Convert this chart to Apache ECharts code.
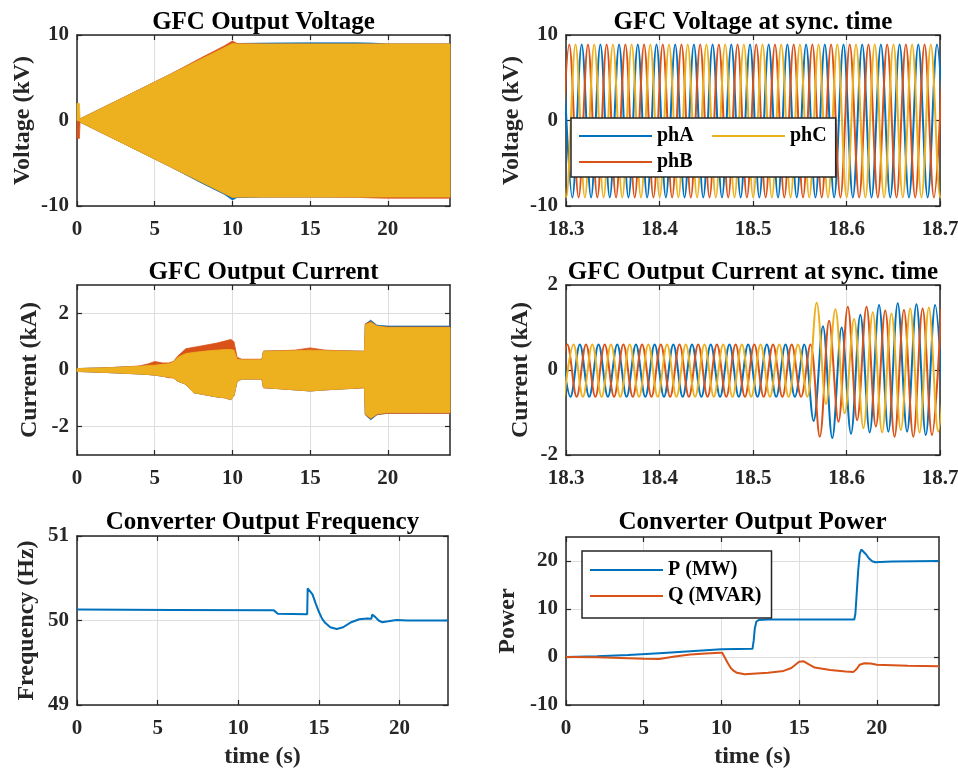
<!DOCTYPE html>
<html>
<head>
<meta charset="utf-8">
<title>GFC synchronisation</title>
<script src="https://cdn.jsdelivr.net/npm/echarts@6.0.0/dist/echarts.min.js"></script>
<style>
  html, body { margin: 0; padding: 0; background: #fff; }
  #main { width: 958px; height: 769px; }
</style>
</head>
<body>
<div id="main"></div>
<script>
// matlab default colours
var BLUE = '#0072BD', RED = '#D95319', YEL = '#EDB120';
var AXC = '#262626', GRC = '#dedede';
var FONT = '"Liberation Serif", "Times New Roman", serif';

// tick labels
var tTicks = [0, 5, 10, 15, 20];
var syncTicks = [18.3, 18.4, 18.5, 18.6, 18.7];
var vTicks = [-10, 0, 10];
var iTicks = [-2, 0, 2];
var fTicks = [49, 50, 51];
var pTicks = [-10, 0, 10, 20];

// GFC output voltage, envelope of each phase (kV) - the 50 Hz waves are too dense to see
var vEnvT = [0, 0.15, 0.2, 2, 4, 6, 8, 9.5, 10, 10.3, 12, 15, 18, 19, 20, 22, 24];
var vA_hi = [0.4, 0.4, 0.18, 1.8, 3.6, 5.4, 7.2, 8.55, 9.0, 9.0, 9.05, 9.08, 9.08, 9.05, 8.95, 8.95, 8.95];
var vA_lo = [-0.4, -0.4, -0.18, -1.8, -3.6, -5.4, -7.3, -8.65, -9.3, -9.0, -8.95, -8.95, -8.95, -8.95, -8.95, -8.95, -8.95];
var vB_hi = [0.4, 0.4, 0.18, 1.8, 3.6, 5.4, 7.35, 8.75, 9.3, 9.0, 8.95, 8.95, 8.95, 8.95, 8.95, 8.95, 8.95];
var vB_lo = [-2.1, -2.1, -0.18, -1.8, -3.6, -5.4, -7.2, -8.55, -9.0, -8.95, -8.95, -8.95, -8.98, -9.05, -9.08, -9.08, -9.08];
var vC_hi = [2.0, 2.0, 0.18, 1.8, 3.6, 5.4, 7.2, 8.55, 9.0, 8.95, 8.95, 8.95, 8.95, 8.95, 8.95, 8.95, 8.95];
var vC_lo = [0, 0, -0.18, -1.8, -3.6, -5.4, -7.2, -8.55, -9.0, -8.95, -8.95, -8.95, -8.95, -8.95, -8.95, -8.95, -8.95];

// GFC output current, envelope of each phase (kA)
var iEnvT = [0, 2, 4, 4.6, 5, 5.5, 5.9, 6.2, 6.5, 7, 7.5, 8, 8.5, 9, 9.5, 9.9, 10.1, 10.3, 10.6, 11.9, 12, 13, 14, 15, 16, 17, 18.5, 18.55, 18.9, 19.3, 20, 22, 24];
var iA_hi = [0.05, 0.08, 0.13, 0.16, 0.17, 0.2, 0.22, 0.28, 0.45, 0.58, 0.62, 0.65, 0.68, 0.7, 0.72, 0.72, 0.7, 0.38, 0.36, 0.36, 0.66, 0.67, 0.68, 0.7, 0.68, 0.67, 0.66, 1.62, 1.76, 1.58, 1.55, 1.55, 1.55];
var iA_lo = [-0.05, -0.09, -0.14, -0.16, -0.18, -0.22, -0.25, -0.27, -0.4, -0.5, -0.8, -0.85, -0.9, -0.95, -0.98, -1.05, -0.9, -0.4, -0.32, -0.32, -0.62, -0.66, -0.7, -0.74, -0.7, -0.67, -0.62, -1.58, -1.76, -1.58, -1.52, -1.52, -1.52];
var iB_hi = [0.05, 0.08, 0.14, 0.22, 0.3, 0.25, 0.25, 0.3, 0.5, 0.75, 0.8, 0.85, 0.9, 0.95, 1.02, 1.08, 1.0, 0.45, 0.38, 0.38, 0.67, 0.68, 0.7, 0.78, 0.7, 0.68, 0.66, 1.62, 1.72, 1.55, 1.52, 1.52, 1.52];
var iB_lo = [-0.05, -0.09, -0.14, -0.16, -0.18, -0.22, -0.27, -0.28, -0.4, -0.5, -0.8, -0.85, -0.9, -0.95, -0.98, -1.05, -0.9, -0.4, -0.32, -0.32, -0.63, -0.66, -0.7, -0.74, -0.7, -0.67, -0.63, -1.57, -1.72, -1.57, -1.53, -1.53, -1.53];
var iC_hi = [0.05, 0.08, 0.13, 0.16, 0.17, 0.2, 0.22, 0.28, 0.45, 0.58, 0.62, 0.65, 0.68, 0.7, 0.72, 0.72, 0.7, 0.38, 0.36, 0.36, 0.66, 0.67, 0.68, 0.7, 0.68, 0.67, 0.66, 1.6, 1.68, 1.55, 1.5, 1.5, 1.5];
var iC_lo = [-0.05, -0.09, -0.14, -0.16, -0.18, -0.22, -0.25, -0.27, -0.4, -0.5, -0.8, -0.85, -0.9, -0.95, -0.98, -1.05, -0.9, -0.4, -0.32, -0.32, -0.62, -0.66, -0.7, -0.74, -0.7, -0.67, -0.62, -1.55, -1.7, -1.55, -1.5, -1.5, -1.5];

// sync window: peak / trough values, one every half period (10 ms at 50 Hz)
var HALF = 0.01;
var vsA_t0 = 18.2968, vsB_t0 = 18.2935, vsC_t0 = 18.2902;
var vsA = [8.9, -9.0, 8.9, -9.0, 8.9, -9.0, 8.9, -9.0, 8.9, -9.0, 8.9, -9.0, 8.9, -9.0,
           8.9, -9.0, 8.9, -9.0, 8.9, -9.0, 8.9, -9.0, 8.9, -9.0, 8.9, -9.0, 8.9, -9.0,
           8.9, -9.0, 8.9, -9.0, 8.9, -9.0, 8.9, -9.0, 8.9, -9.0, 8.9, -9.0, 8.9, -9.0];
var vsB = [-9.0, 8.9, -9.0, 8.9, -9.0, 8.9, -9.0, 8.9, -9.0, 8.9, -9.0, 8.9, -9.0, 8.9,
           -9.0, 8.9, -9.0, 8.9, -9.0, 8.9, -9.0, 8.9, -9.0, 8.9, -9.0, 8.9, -9.0, 8.9,
           -9.0, 8.9, -9.0, 8.9, -9.0, 8.9, -9.0, 8.9, -9.0, 8.9, -9.0, 8.9, -9.0, 8.9];
var vsC = [8.9, -9.0, 8.9, -9.0, 8.9, -9.0, 8.9, -9.0, 8.9, -9.0, 8.9, -9.0, 8.9, -9.0,
           8.9, -9.0, 8.9, -9.0, 8.9, -9.0, 8.9, -9.0, 8.9, -9.0, 8.9, -9.0, 8.9, -9.0,
           8.9, -9.0, 8.9, -9.0, 8.9, -9.0, 8.9, -9.0, 8.9, -9.0, 8.9, -9.0, 8.9, -9.0, 8.9];

var isA_t0 = 18.2948, isB_t0 = 18.2914, isC_t0 = 18.2981;
var isA = [0.6, -0.63, 0.6, -0.63, 0.6, -0.63, 0.6, -0.63, 0.6, -0.63, 0.6, -0.63, 0.6, -0.63,
           0.6, -0.63, 0.6, -0.63, 0.6, -0.63, 0.6, -0.63, 0.6, -0.63, 0.6, -0.63, 0.6,
           -1.2, 1.03, -1.6, 1.0, -1.5, 1.3, -1.47, 1.53, -1.45, 1.57, -1.45, 1.55, -1.53, 1.53, -1.5];
var isB = [-0.63, 0.6, -0.63, 0.6, -0.63, 0.6, -0.63, 0.6, -0.63, 0.6, -0.63, 0.6, -0.63, 0.6,
           -0.63, 0.6, -0.63, 0.6, -0.63, 0.6, -0.63, 0.6, -0.63, 0.6, -0.63, 0.6, -0.63, 0.6,
           -1.57, 1.16, -1.22, 1.49, -1.18, 1.49, -1.33, 1.4, -1.57, 1.41, -1.57, 1.45, -1.53, 1.45];
var isC = [-0.63, 0.6, -0.63, 0.6, -0.63, 0.6, -0.63, 0.6, -0.63, 0.6, -0.63, 0.6, -0.63, 0.6,
           -0.63, 0.6, -0.63, 0.6, -0.63, 0.6, -0.63, 0.6, -0.63, 0.6, -0.63, 0.6, -0.63,
           1.58, -0.8, 1.43, -1.02, 1.2, -1.37, 1.36, -1.47, 1.33, -1.41, 1.45, -1.47, 1.47, -1.45, 1.45];

// converter frequency (Hz)
var fT = [0, 6, 12.2, 12.3, 12.45, 14.27, 14.3, 14.4, 14.6, 14.8, 15.0, 15.2, 15.4, 15.7, 16.1, 16.5, 17.0, 17.5, 18.0, 18.25, 18.3, 18.35, 18.5, 18.7, 18.9, 19.3, 19.8, 20.5, 23];
var fV = [50.13, 50.125, 50.12, 50.1, 50.08, 50.075, 50.38, 50.39, 50.31, 50.2, 50.1, 50.02, 49.97, 49.92, 49.9, 49.92, 49.98, 50.015, 50.025, 50.02, 50.07, 50.075, 50.04, 50.0, 49.98, 49.99, 50.005, 50.0, 50.0];

// converter power
var pT = [0, 2, 4, 6, 8, 10, 12, 12.08, 12.15, 12.25, 12.4, 13, 15, 18.55, 18.62, 18.7, 18.8, 18.9, 19.0, 19.1, 19.3, 19.5, 19.7, 19.9, 20.2, 21, 24];
var pV = [0, 0.15, 0.4, 0.8, 1.2, 1.6, 1.7, 3.5, 6.0, 7.4, 7.7, 7.8, 7.8, 7.8, 9.0, 13.0, 18.0, 21.5, 22.4, 22.3, 21.4, 20.5, 19.95, 19.75, 19.8, 19.9, 20.0];
var qT = [0, 2, 4, 5, 6, 7, 8, 9, 9.9, 10.05, 10.2, 10.4, 10.6, 10.8, 11, 11.5, 12, 13, 14, 14.5, 15, 15.1, 15.3, 15.6, 16, 17, 18, 18.5, 18.6, 18.7, 18.9, 19.2, 19.6, 20, 22, 24];
var qV = [0, -0.05, -0.25, -0.35, -0.4, 0.1, 0.5, 0.75, 0.9, 0.9, 0, -1.2, -2.3, -2.9, -3.3, -3.6, -3.5, -3.3, -2.9, -2.3, -1.0, -0.7, -0.9, -1.5, -2.2, -2.7, -3.0, -3.1, -3.4, -2.5, -1.6, -1.3, -1.35, -1.6, -1.8, -1.95];

function pairs(t, v) {
    return t.map(function (x, i) { return [x, v[i]]; });
}
function halfCycles(t0, v) {
    return v.map(function (y, i) { return [t0 + i * HALF, y]; });
}

var grids = [
    { left: 77, top: 35, width: 373, height: 171 },
    { left: 566, top: 35, width: 374, height: 171 },
    { left: 77, top: 285, width: 373, height: 170 },
    { left: 566, top: 285, width: 374, height: 170 },
    { left: 77, top: 536, width: 371, height: 169 },
    { left: 566, top: 537, width: 373, height: 168 }
];
grids.forEach(function (g) { g.outerBoundsMode = 'none'; g.containLabel = false; });

var tickTxt = { color: AXC, fontFamily: FONT, fontWeight: 'bold', fontSize: 21 };
var nameTxt = { color: AXC, fontFamily: FONT, fontWeight: 'bold', fontSize: 24 };

function axes(dim, gi, min, max, ticks, name, gap) {
    var line = { show: true, onZero: false, lineStyle: { color: AXC, width: 1.5 } };
    var tick = { show: true, inside: true, length: 5, customValues: ticks, lineStyle: { color: AXC, width: 1.2 } };
    var main = {
        gridIndex: gi, type: 'value', min: min, max: max,
        position: dim === 'x' ? 'bottom' : 'left',
        axisLine: line, axisTick: tick,
        axisLabel: Object.assign({ customValues: ticks, margin: dim === 'x' ? 13 : 8 }, tickTxt),
        splitLine: { show: true, lineStyle: { color: GRC, width: 1 } },
        name: name || '', nameLocation: 'middle', nameGap: gap || 30,
        nameMoveOverlap: false, nameTextStyle: nameTxt
    };
    var other = {
        gridIndex: gi, type: 'value', min: min, max: max,
        position: dim === 'x' ? 'top' : 'right',
        axisLine: line, axisTick: tick,
        axisLabel: { show: false }, splitLine: { show: false }
    };
    return [main, other];
}

var xAxis = [].concat(
    axes('x', 0, 0, 24, tTicks),
    axes('x', 1, 18.3, 18.7, syncTicks),
    axes('x', 2, 0, 24, tTicks),
    axes('x', 3, 18.3, 18.7, syncTicks),
    axes('x', 4, 0, 23, tTicks, 'time (s)', 40),
    axes('x', 5, 0, 24, tTicks, 'time (s)', 40)
);
var yAxis = [].concat(
    axes('y', 0, -10, 10, vTicks, 'Voltage (kV)', 42),
    axes('y', 1, -10, 10, vTicks, 'Voltage (kV)', 42),
    axes('y', 2, -3, 3, iTicks, 'Current (kA)', 35),
    axes('y', 3, -2, 2, iTicks, 'Current (kA)', 33),
    axes('y', 4, 49, 51, fTicks, 'Frequency (Hz)', 38),
    axes('y', 5, -10, 25, pTicks, 'Power', 46)
);

function base(gi, name, color, data) {
    return {
        type: 'line', name: name, xAxisIndex: 2 * gi, yAxisIndex: 2 * gi,
        data: data, symbol: 'none', showSymbol: false, silent: true, animation: false,
        itemStyle: { color: color }, lineStyle: { color: color, width: 2 },
        emphasis: { disabled: true }
    };
}
// filled envelope: one polygon, upper edge forward then lower edge back
function band(gi, name, color, t, hi, lo) {
    return {
        type: 'custom', name: name, xAxisIndex: 2 * gi, yAxisIndex: 2 * gi,
        data: [[t[0], hi[0]]], silent: true, animation: false,
        renderItem: function (params, api) {
            var pts = [];
            for (var i = 0; i < t.length; i++) pts.push(api.coord([t[i], hi[i]]));
            for (var j = t.length - 1; j >= 0; j--) pts.push(api.coord([t[j], lo[j]]));
            return {
                type: 'polygon', shape: { points: pts },
                style: { fill: color, stroke: color, lineWidth: 0.8 }
            };
        }
    };
}
function wave(gi, name, color, t0, v) {
    var s = base(gi, name, color, halfCycles(t0, v));
    s.smooth = 0.35;
    return s;
}

var series = [
    band(0, 'vA', BLUE, vEnvT, vA_hi, vA_lo),
    band(0, 'vB', RED, vEnvT, vB_hi, vB_lo),
    band(0, 'vC', YEL, vEnvT, vC_hi, vC_lo),
    wave(1, 'phA', BLUE, vsA_t0, vsA),
    wave(1, 'phB', RED, vsB_t0, vsB),
    wave(1, 'phC', YEL, vsC_t0, vsC),
    band(2, 'iA', BLUE, iEnvT, iA_hi, iA_lo),
    band(2, 'iB', RED, iEnvT, iB_hi, iB_lo),
    band(2, 'iC', YEL, iEnvT, iC_hi, iC_lo),
    wave(3, 'isA', BLUE, isA_t0, isA),
    wave(3, 'isB', RED, isB_t0, isB),
    wave(3, 'isC', YEL, isC_t0, isC),
    base(4, 'freq', BLUE, pairs(fT, fV)),
    base(5, 'P (MW)', BLUE, pairs(pT, pV)),
    base(5, 'Q (MVAR)', RED, pairs(qT, qV))
];

var titles = ['GFC Output Voltage', 'GFC Voltage at sync. time', 'GFC Output Current',
              'GFC Output Current at sync. time', 'Converter Output Frequency', 'Converter Output Power'];
var titleTop = [10, 10, 260, 260, 510, 510];

var legendText = { color: '#000', fontFamily: FONT, fontWeight: 'bold', fontSize: 20 };
var legendCommon = {
    icon: 'rect', itemWidth: 73, itemHeight: 2, itemGap: 6, selectedMode: false,
    orient: 'vertical', textStyle: legendText
};

var option = {
    backgroundColor: '#fff',
    animation: false,
    title: titles.map(function (t, i) {
        var g = grids[i];
        return {
            text: t, left: g.left + g.width / 2, top: titleTop[i], textAlign: 'center', padding: 0,
            textStyle: { color: '#000', fontFamily: FONT, fontWeight: 'bold', fontSize: 25 }
        };
    }),
    grid: grids,
    xAxis: xAxis,
    yAxis: yAxis,
    legend: [
        // phase legend: first column carries the box, phC sits in the second column
        Object.assign({
            data: ['phA', 'phB'], left: 571, top: 118, padding: [8, 142, 5, 8],
            borderColor: AXC, borderWidth: 1.5, backgroundColor: '#fff'
        }, legendCommon),
        Object.assign({
            data: ['phC'], left: 712, top: 126, padding: 0, z: 6
        }, legendCommon),
        Object.assign({
            data: ['P (MW)', 'Q (MVAR)'], left: 582, top: 551, padding: [9, 10, 12, 8],
            borderColor: AXC, borderWidth: 1.5, backgroundColor: '#fff'
        }, legendCommon)
    ],
    series: series
};

var chart = echarts.init(document.getElementById('main'), null, { renderer: 'canvas' });
chart.setOption(option);
</script>
</body>
</html>
